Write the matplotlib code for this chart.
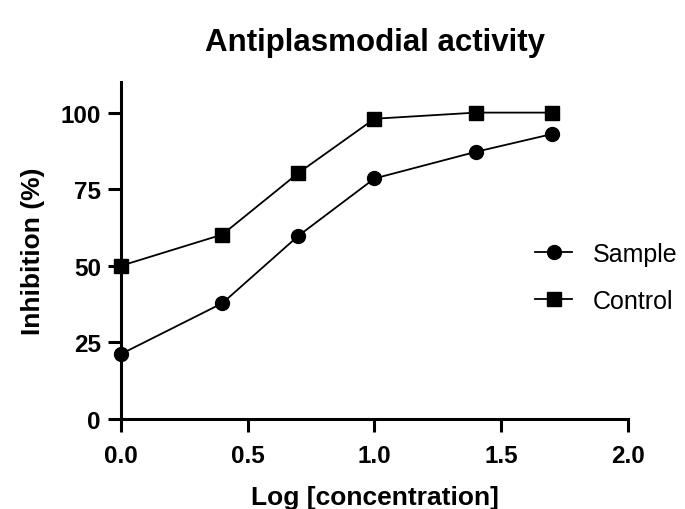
import matplotlib
matplotlib.use("Agg")
import matplotlib.pyplot as plt

plt.rcParams['font.family'] = ['Liberation Sans', 'DejaVu Sans']

# log10 of concentration
log_conc = [0.0, 0.4, 0.7, 1.0, 1.4, 1.7]
sample = [21.2, 37.8, 59.8, 78.5, 87.2, 93.0]
control = [50.0, 60.2, 80.3, 98.0, 100.0, 100.0]

fig = plt.figure(figsize=(6.85, 5.10), dpi=100)
ax = fig.add_axes([0.1766, 0.1765, 0.7402, 0.6608])

ax.plot(log_conc, sample, '-o', color='black', lw=1.3, ms=10,
        clip_on=False, zorder=3, label='Sample')
ax.plot(log_conc, control, '-s', color='black', lw=1.3, ms=9.5,
        clip_on=False, zorder=3, label='Control')

ax.set_xlim(0, 2.0)
ax.set_ylim(0, 110)
ax.set_xticks([0.0, 0.5, 1.0, 1.5, 2.0])
ax.set_xticklabels(['0.0', '0.5', '1.0', '1.5', '2.0'])
ax.set_yticks([0, 25, 50, 75, 100])

for s in ['top', 'right']:
    ax.spines[s].set_visible(False)
for s in ['left', 'bottom']:
    ax.spines[s].set_linewidth(2.2)
ax.tick_params(width=2.2, length=9.5, labelsize=17.5)
ax.tick_params(axis='x', pad=8.5)
ax.tick_params(axis='y', pad=5)
for lab in ax.get_xticklabels() + ax.get_yticklabels():
    lab.set_fontweight('bold')

ax.set_xlabel('Log [concentration]', fontsize=19, fontweight='bold', labelpad=13)
ax.set_ylabel('Inhibition (%)', fontsize=19, fontweight='bold', labelpad=11)
fig.text(0.548, 1 - 51 / 510, 'Antiplasmodial activity', fontsize=22.5,
         fontweight='bold', ha='center', va='baseline')

ax.legend(loc='upper left', bbox_to_anchor=(535 / 685, 1 - 243 / 510),
          bbox_transform=fig.transFigure, frameon=False, fontsize=18,
          borderpad=0, borderaxespad=0, handlelength=1.48,
          handletextpad=0.84, labelspacing=0.92)

fig.savefig('out.png', dpi=100)
